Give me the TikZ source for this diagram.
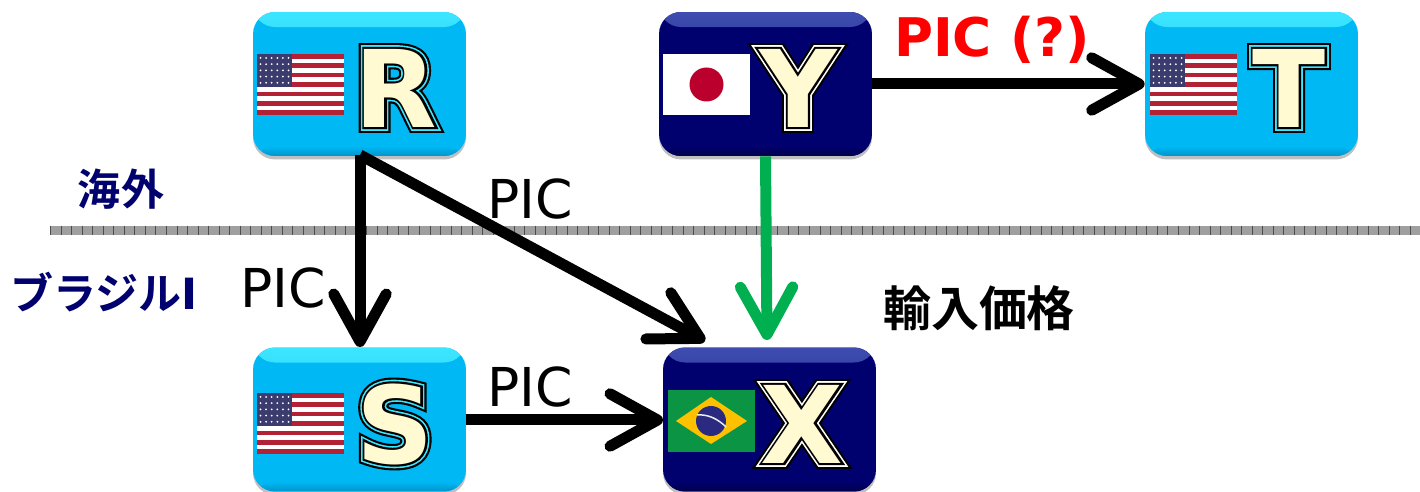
\documentclass[tikz,border=0pt]{standalone}
\usepackage{fontspec}
\usetikzlibrary{calc,arrows.meta,shadows}
\setmainfont{DejaVu Sans}
\newfontfamily\cjkbold[BoldFont=Noto Sans CJK JP Bold]{Noto Sans CJK JP}
\newfontfamily\outerfont[FakeBold=11]{DejaVu Sans Bold}
\newfontfamily\middlefont[FakeBold=7]{DejaVu Sans Bold}
\newfontfamily\innerfont[FakeBold=4]{DejaVu Sans Bold}
\definecolor{skybox}{HTML}{00B8F4}
\definecolor{skytop}{HTML}{3DE6FF}
\definecolor{skylow}{HTML}{0094CC}
\definecolor{navybox}{HTML}{00006E}
\definecolor{navytop}{HTML}{3F4DB0}
\definecolor{navylow}{HTML}{00004A}
\definecolor{lettercream}{HTML}{FFFAD2}
\definecolor{flagred}{HTML}{B22234}
\definecolor{flagblue}{HTML}{3C3B6E}
\definecolor{japanred}{HTML}{BC002D}
\definecolor{brazilgreen}{HTML}{0A9443}
\definecolor{brazilyellow}{HTML}{FDC100}
\definecolor{brazilblue}{HTML}{2A2A80}
\definecolor{greenarrow}{HTML}{00B050}
\newcommand{\bigletter}[2]{\fontsize{61}{61}\selectfont\rlap{\outerfont\color{black}#1}\rlap{\middlefont\color{#2}#1}\rlap{\innerfont\color{black}#1}{\bfseries\color{lettercream}#1}}
\tikzset{
  bevelbox/.style n args={3}{rounded corners=.44cm,minimum width=4.26cm,minimum height=2.88cm,inner sep=0pt,fill=#1,
    drop shadow={shadow xshift=0pt,shadow yshift=-.07cm,fill=black,opacity=.25},
    path picture={
      \shade[top color=#2,bottom color=#1] (path picture bounding box.north west) rectangle ($(path picture bounding box.north east)+(0,15)$);
      \shade[top color=#1,bottom color=#3] ($(path picture bounding box.south west)+(0,-10)$) rectangle (path picture bounding box.south east);
    }},
  skystyle/.style={bevelbox={skybox}{skytop}{skylow}},
  navystyle/.style={bevelbox={navybox}{navytop}{navylow}},
  letterstyle/.style={inner sep=0pt},
  picstyle/.style={inner sep=0pt,font=\fontsize{30.5}{32}\selectfont},
  sidestyle/.style={inner sep=0pt,text=navybox,font=\cjkbold\fontsize{24.5}{26}\selectfont\bfseries},
  linkstyle/.style={line width=.22cm,-{Straight Barb[length=.95cm,width=1.05cm,round]}},
  usflag/.pic={
    \fill[white] (0,0) rectangle (87,61);
    \foreach \row in {0,2,...,12}
      \fill[flagred] (0,{\row*61/13}) rectangle (87,{(\row+1)*61/13});
    \fill[flagblue] (0,0) rectangle (35,33);
    \foreach \col in {0,...,5}
      \foreach \row in {0,...,4}
        \fill[white] ({3.5+\col*5.6},{4+\row*6.2}) circle (1);
  },
  japanflag/.pic={
    \fill[white] (0,0) rectangle (87,61);
    \fill[japanred] (43.5,30.5) circle (17);
  },
  brazilflag/.pic={
    \fill[brazilgreen] (0,0) rectangle (87,62);
    \fill[brazilyellow] (8,31) -- (43,7) -- (79,31) -- (43,54) -- cycle;
    \fill[brazilblue] (43,31) circle (15);
    \draw[white!85!gray,line width=.03cm] (29,25) .. controls (40,24) and (50,29) .. (58,37);
  }
}
\begin{document}
\begin{tikzpicture}[x=.02cm,y=-.02cm]
    \useasboundingbox (0,0) rectangle (1420,492);

    \coordinate (sepleft) at (50,230.5);
    \coordinate (sepright) at (1420,230.5);
    \draw[line width=.18cm,gray!75](sepleft)--(sepright);
    \draw[line width=.18cm,black!70,dash pattern=on .4pt off 5.6pt](sepleft)--(sepright);

    \node[skystyle] (R) at (359.5,84) {};
    \node[navystyle] (Y) at (765.5,84) {};
    \node[skystyle] (T) at (1251.5,84) {};
    \node[skystyle] (S) at (359.5,419.5) {};
    \node[navystyle] (X) at (769.5,419.5) {};

    \pic at (257,54) {usflag};
    \pic at (663,54) {japanflag};
    \pic at (1150,54) {usflag};
    \pic at (257,393) {usflag};
    \pic at (668,390) {brazilflag};

    \node[letterstyle] (Rletter) at (396,88) {\bigletter{R}{skytop}};
    \node[letterstyle] (Yletter) at (798,88) {\bigletter{Y}{white}};
    \node[letterstyle] (Tletter) at (1289,88) {\bigletter{T}{skytop}};
    \node[letterstyle] (Sletter) at (395,424) {\bigletter{S}{skytop}};
    \node[letterstyle] (Xletter) at (802,424) {\bigletter{X}{white}};

    \coordinate (Rfoot) at (360,155);
    \coordinate (Stop) at (360,347);
    \coordinate (Xcorner) at (705,341);
    \coordinate (Xtop) at (767,340);
    \coordinate (Xleft) at (663,420);
    \draw[linkstyle,black](Rfoot)--(Stop);
    \draw[linkstyle,black](Rfoot)--(Xcorner);
    \draw[linkstyle,black](S.east|-Xleft)--(Xleft);
    \draw[linkstyle,black](Y.east)--(T.west);
    \draw[linkstyle,greenarrow](Y.south)--(Xtop);

    \node[picstyle] (picRX) at (530,199) {PIC};
    \node[picstyle] (picRS) at (283,288) {PIC};
    \node[picstyle] (picSX) at (530,387) {PIC};
    \node[inner sep=0pt,text=red,font=\fontsize{30.3}{32}\selectfont\bfseries] (picYT) at (992,40) {PIC (?)};

    \node[sidestyle] (abroad) at (121,189) {海外};
    \node[sidestyle] (brazil) at (104,292) {ブラジル{\rmfamily I}};
    \node[inner sep=0pt,font=\cjkbold\fontsize{27.3}{29}\selectfont\bfseries] (importprice) at (979,308) {輸入価格};
  \end{tikzpicture}
\end{document}
